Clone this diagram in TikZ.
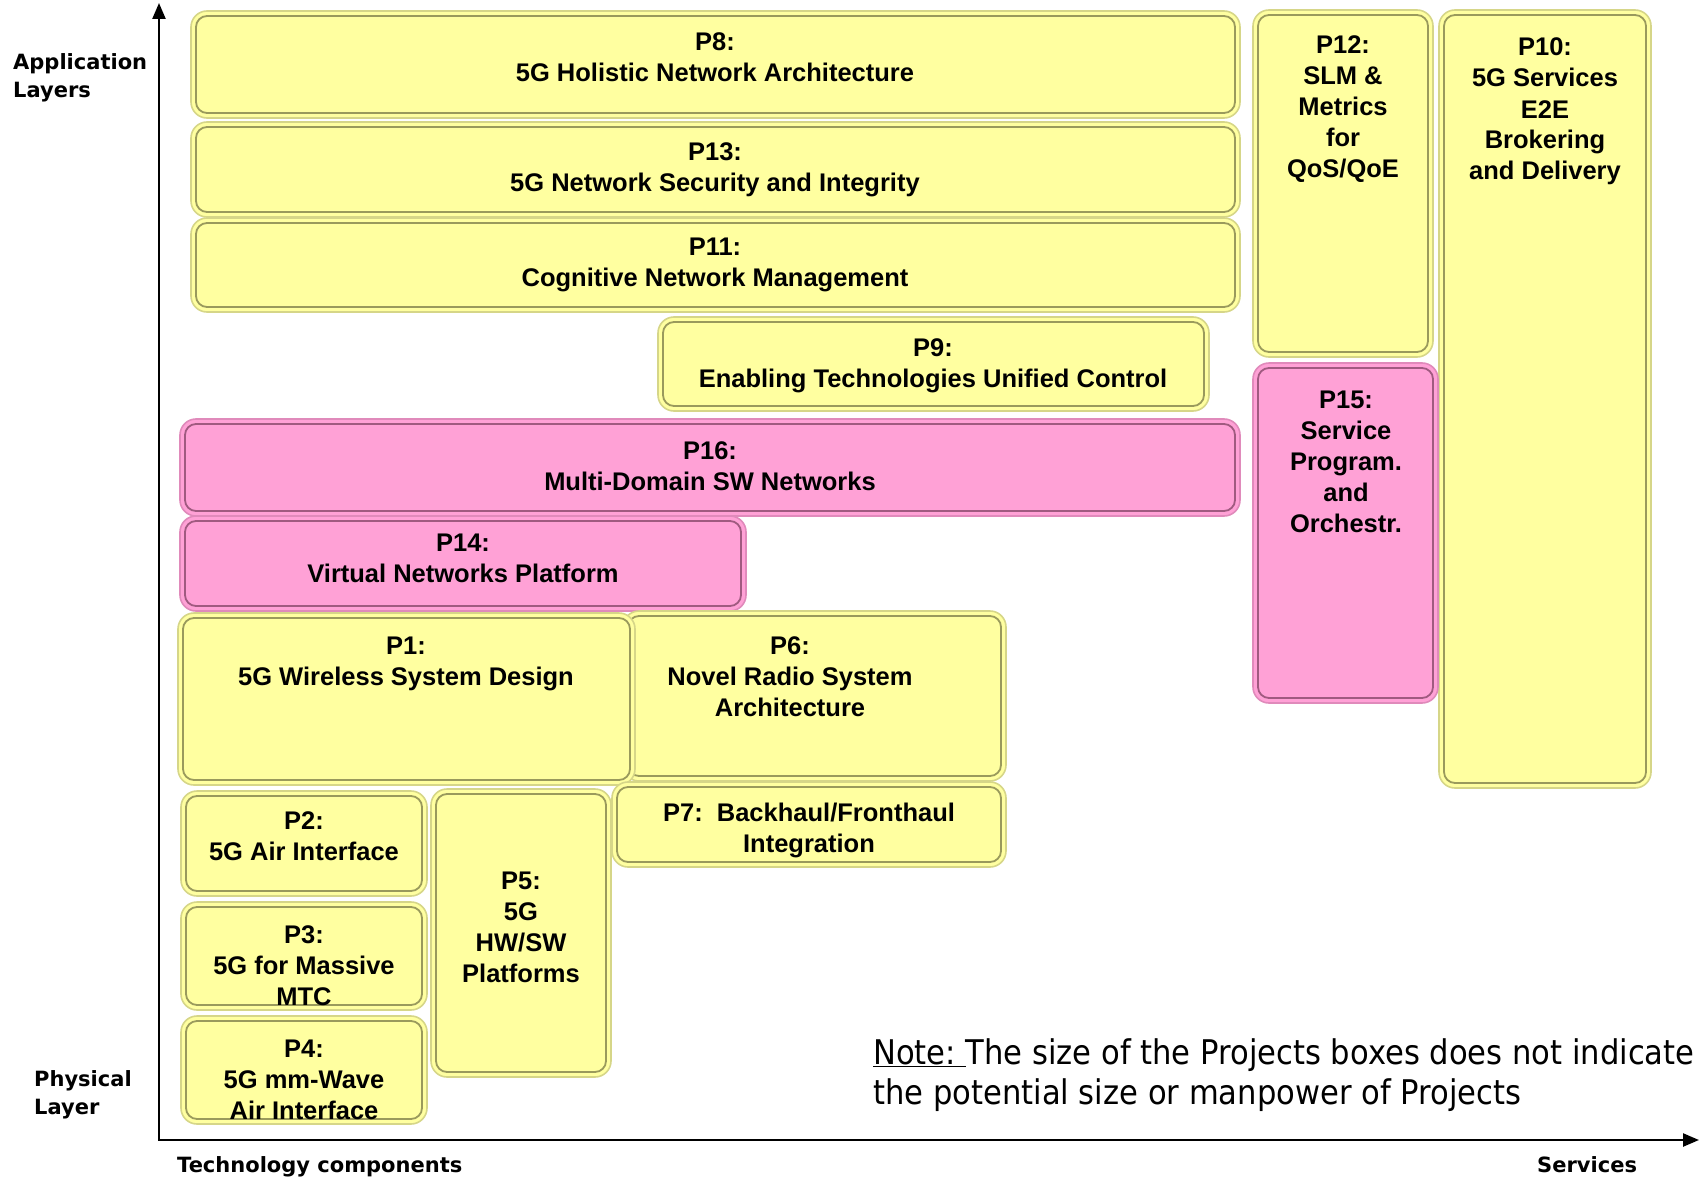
\documentclass[tikz,border=0pt]{standalone}
\usepackage{fontspec}
\setmainfont{Liberation Sans}
\newfontfamily\axisfont{DejaVu Sans}
\newfontfamily\notefont[FakeStretch=0.9]{DejaVu Sans}
\usetikzlibrary{fit,arrows.meta}
\definecolor{yfill}{HTML}{FFFFA0}
\definecolor{yrim}{HTML}{D6D688}
\definecolor{yline}{HTML}{9A9A5C}
\definecolor{pfill}{HTML}{FFA1D6}
\definecolor{prim}{HTML}{E08ABB}
\definecolor{pline}{HTML}{A05A80}
\begin{document}
\begin{tikzpicture}[x=1pt,y=-1pt,
  bevel/.style={draw=#1, line width=1.8pt, rounded corners=11pt},
  ybox/.style={inner sep=0pt, rounded corners=16pt, fill=yfill, draw=yrim, line width=1.6pt,
    path picture={\draw[bevel=yline] ([shift={(5pt,-5pt)}]path picture bounding box.north west) rectangle ([shift={(-5pt,5pt)}]path picture bounding box.south east);}},
  pbox/.style={inner sep=0pt, rounded corners=16pt, fill=pfill, draw=prim, line width=1.6pt,
    path picture={\draw[bevel=pline] ([shift={(5pt,-5pt)}]path picture bounding box.north west) rectangle ([shift={(-5pt,5pt)}]path picture bounding box.south east);}},
  btext/.style={font=\fontsize{25.5}{31}\selectfont\bfseries, align=center, inner sep=0pt, anchor=base},
  axlab/.style={font=\axisfont\fontsize{21}{28}\selectfont\bfseries, align=left, inner sep=0pt, anchor=base west},
  notetext/.style={font=\notefont\fontsize{34}{40}\selectfont, align=left, inner sep=0pt, anchor=base west},
  axis/.style={line width=2.4pt, {Triangle[length=16pt,width=13pt]}-{Triangle[length=16pt,width=13pt]}}
]
\useasboundingbox (0,0) rectangle (1699,1177);

% boxes
\node[ybox, fit={(191,11) (1240,118)}] (P8) {};
\node[ybox, fit={(191,122) (1240,217)}] (P13) {};
\node[ybox, fit={(191,218) (1240,312)}] (P11) {};
\node[ybox, fit={(658,317) (1209,411)}] (P9) {};
\node[ybox, fit={(1253,10) (1433,357)}] (P12) {};
\node[ybox, fit={(1439,10) (1651,788)}] (P10) {};
\node[pbox, fit={(1253,363) (1438,703)}] (P15) {};
\node[pbox, fit={(180,419) (1240,516)}] (P16) {};
\node[pbox, fit={(180,516) (746,611)}] (P14) {};
\node[ybox, fit={(623,611) (1006,781)}] (P6) {};
\node[ybox, fit={(178,613) (635,785)}] (P1) {};
\node[ybox, fit={(612,782) (1006,867)}] (P7) {};
\node[ybox, fit={(181,791) (427,896)}] (P2) {};
\node[ybox, fit={(181,902) (427,1010)}] (P3) {};
\node[ybox, fit={(181,1016) (427,1124)}] (P4) {};
\node[ybox, fit={(431,789) (611,1077)}] (P5) {};

% box texts (anchored at the baseline of the last line)
\node[btext] (t8) at (715,82) {P8:\\5G Holistic Network Architecture};
\node[btext] (t13) at (715,192) {P13:\\5G Network Security and Integrity};
\node[btext] (t11) at (715,286) {P11:\\Cognitive Network Management};
\node[btext] (t9) at (933,387) {P9:\\Enabling Technologies Unified Control};
\node[btext] (t16) at (710,490) {P16:\\Multi-Domain SW Networks};
\node[btext] (t14) at (463,582) {P14:\\Virtual Networks Platform};
\node[btext] (t1) at (406,685) {P1:\\5G Wireless System Design};
\node[btext] (t6) at (790,716) {P6:\\Novel Radio System\\Architecture};
\node[btext] (t7) at (809,852) {P7:\ \ Backhaul/Fronthaul\\Integration};
\node[btext] (t2) at (304,860) {P2:\\5G Air Interface};
\node[btext] (t3) at (304,1005) {P3:\\5G for Massive\\MTC};
\node[btext] (t4) at (304,1119) {P4:\\5G mm-Wave\\Air Interface};
\node[btext] (t5) at (521,982) {P5:\\5G\\HW/SW\\Platforms};
\node[btext] (t12) at (1343,178) {P12:\\SLM \&\\Metrics\\for\\QoS/QoE};
\node[btext] (t15) at (1346,532) {P15:\\Service\\Program.\\and\\Orchestr.};
\node[btext] (t10) at (1545,180) {P10:\\5G Services\\E2E\\Brokering\\and Delivery};

% axes
\coordinate (O) at (159,1140);
\coordinate (ytop) at (159,3);
\coordinate (xend) at (1699,1140);
\draw[axis] (ytop) -- (O) -- (xend);

% axis labels
\node[axlab] (lapp) at (13,98) {Application\\Layers};
\node[axlab] (lphy) at (34,1114) {Physical\\Layer};
\node[axlab] (ltech) at (177,1172) {Technology components};
\node[axlab] (lserv) at (1537,1172) {Services};

% note
\node[notetext] (note) at (873,1104) {\underline{Note:~}The size of the Projects boxes does not indicate\\the potential size or manpower of Projects};
\end{tikzpicture}
\end{document}
